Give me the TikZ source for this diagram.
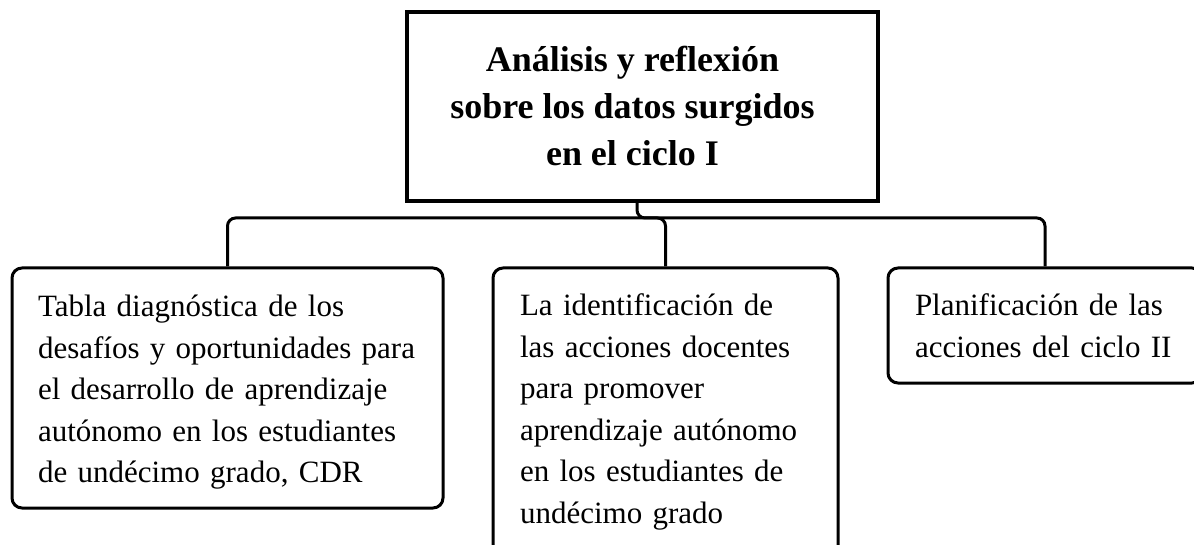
\documentclass[tikz,border=0pt]{standalone}
\usepackage{fontspec}
\setmainfont{Liberation Serif}
\newcommand{\lsh}{\hspace*{-20pt}}
\begin{document}
\begin{tikzpicture}[x=1pt,y=-1pt,
  topbox/.style={draw, line width=3.3pt, inner sep=0pt, align=center,
    font=\fontsize{36}{47}\selectfont\bfseries},
  box/.style={draw, line width=3pt, rounded corners=10pt, inner sep=0pt, align=left,
    font=\fontsize{31}{41.5}\selectfont},
  conn/.style={draw, line width=3pt, rounded corners=8pt}]
\useasboundingbox (0,0) rectangle (1194,545);
\clip (0,0) rectangle (1194,545);
\node[topbox, minimum width=471, minimum height=189] (top) at (642.5,106.5)
  {\lsh Análisis y reflexión\\\lsh sobre los datos surgidos\\\lsh en el ciclo I};
\node[box, text width=379, minimum width=431, minimum height=240] (l) at (227.5,388)
  {\rule{0pt}{30pt}Tabla diagnóstica de los\\desafíos y oportunidades para\\el desarrollo de aprendizaje\\autónomo en los estudiantes\\de undécimo grado, CDR};
\node[box, text width=291, minimum width=345, minimum height=288] (m) at (665.5,412)
  {La identificación de\\las acciones docentes\\para promover\\aprendizaje autónomo\\en los estudiantes de\\undécimo grado};
\node[box, text width=260, minimum width=314, minimum height=115] (r) at (1045,325.5)
  {Planificación de las\\acciones del ciclo II};
\coordinate (hub) at (0,218);
\draw[conn] (l.north) |- (r.north |- hub) -- (r.north);
\draw[conn] ([xshift=-5.5pt]top.south) |- (m.north |- hub) -- (m.north);
\end{tikzpicture}
\end{document}
